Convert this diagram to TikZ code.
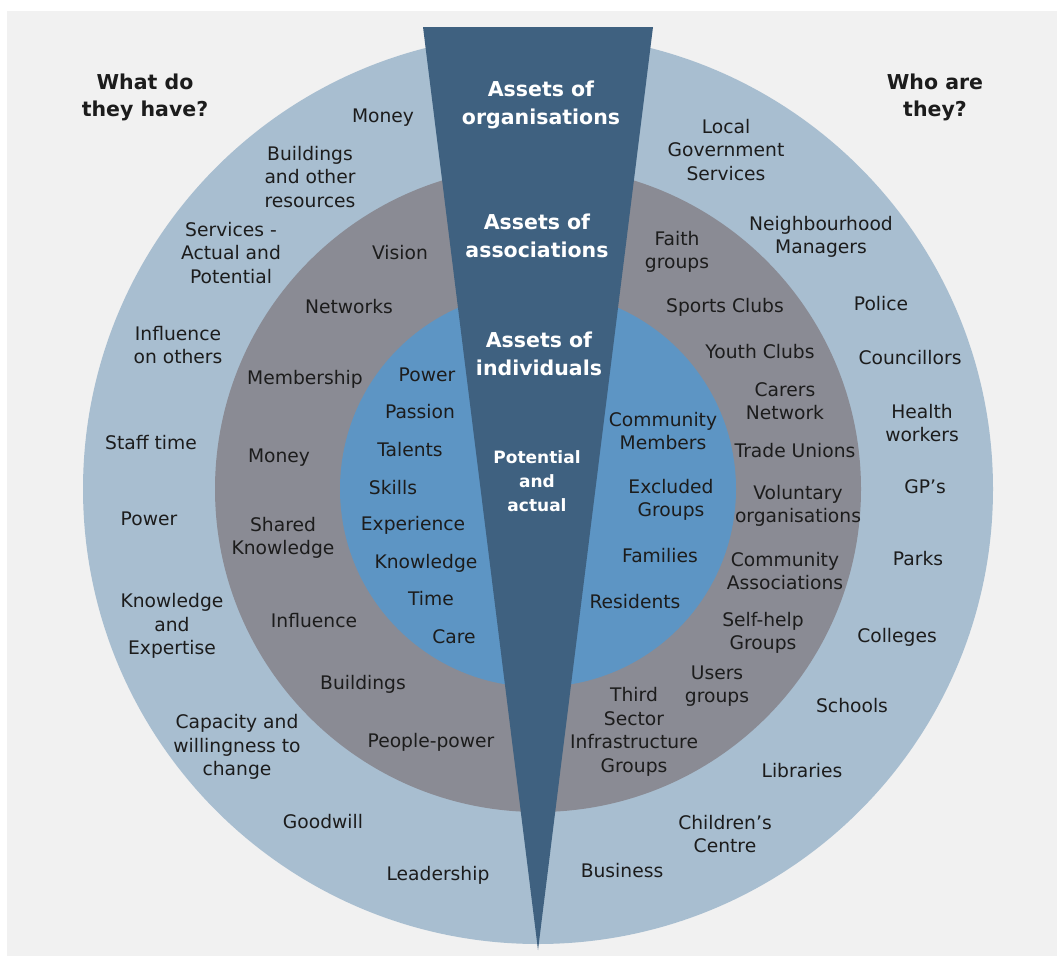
\documentclass[tikz,border=0pt]{standalone}
\usepackage{fontspec}
\setmainfont{DejaVu Sans}

\definecolor{paper}{HTML}{F1F1F1}
\definecolor{orgring}{HTML}{A8BED0}
\definecolor{assocring}{HTML}{8A8B94}
\definecolor{indivdisc}{HTML}{5D95C4}
\definecolor{wedgeblue}{HTML}{3F6180}
\definecolor{ink}{HTML}{1C1C1C}

\begin{document}
\begin{tikzpicture}[
  x=1pt, y=-1pt,
  lbl/.style={text=ink, align=center, inner sep=0pt,
              font=\fontsize{18.7}{23.5}\selectfont},
  head/.style={lbl, font=\bfseries\fontsize{20.5}{27}\selectfont},
  wlbl/.style={lbl, text=white, font=\bfseries\fontsize{20.5}{28.5}\selectfont},
  wsmall/.style={wlbl, font=\bfseries\fontsize{17}{24}\selectfont},
]
\useasboundingbox (0,0) rectangle (1057,956);
\fill[white] (0,0) rectangle (1057,956);
\fill[paper] (7,11) rectangle (1057,956);

% rings, outside in
\coordinate (ctr) at (538,489);
\fill[orgring] (ctr) circle [radius=455pt];
\fill[assocring] (ctr) circle [radius=323pt];
\fill[indivdisc] (ctr) circle [radius=198pt];
\fill[wedgeblue] (423,27) -- (653,27) -- (538,950) -- cycle;

% headings
\node[head] (have) at (145,97) {What do\\they have?};
\node[head] (who) at (935,97) {Who are\\they?};
\node[wlbl] (w-org) at (541,105) {Assets of\\organisations};
\node[wlbl] (w-assoc) at (537,236) {Assets of\\associations};
\node[wlbl] (w-indiv) at (539,354) {Assets of\\individuals};
\node[wsmall] (w-pot) at (537,481) {Potential\\and\\actual};

% organisations: what they have
\node[lbl] (o-money) at (383,118) {Money};
\node[lbl] (o-build) at (310,177) {Buildings\\and other\\resources};
\node[lbl] (o-serv) at (231,253) {Services -\\Actual and\\Potential};
\node[lbl] (o-infl) at (178,345) {Influence\\on others};
\node[lbl] (o-staff) at (151,443) {Staff time};
\node[lbl] (o-power) at (149,519) {Power};
\node[lbl] (o-know) at (172,626) {Knowledge\\and\\Expertise};
\node[lbl] (o-cap) at (237,747) {Capacity and\\willingness to\\change};
\node[lbl] (o-good) at (323,822) {Goodwill};
\node[lbl] (o-lead) at (438,875) {Leadership};

% associations: what they have
\node[lbl] (a-vision) at (400,253) {Vision};
\node[lbl] (a-net) at (349,307) {Networks};
\node[lbl] (a-member) at (305,379) {Membership};
\node[lbl] (a-money) at (279,458) {Money};
\node[lbl] (a-shared) at (283,538) {Shared\\Knowledge};
\node[lbl] (a-infl) at (314,621) {Influence};
\node[lbl] (a-build) at (363,684) {Buildings};
\node[lbl] (a-people) at (431,742) {People-power};

% individuals: what they have
\node[lbl] (i-power) at (427,375) {Power};
\node[lbl] (i-passion) at (420,412) {Passion};
\node[lbl] (i-talent) at (410,450) {Talents};
\node[lbl] (i-skill) at (393,488) {Skills};
\node[lbl] (i-exp) at (413,525) {Experience};
\node[lbl] (i-know) at (426,563) {Knowledge};
\node[lbl] (i-time) at (431,599) {Time};
\node[lbl] (i-care) at (454,637) {Care};

% individuals: who they are
\node[lbl] (i-comm) at (663,431) {Community\\Members};
\node[lbl] (i-excl) at (671,500) {Excluded\\Groups};
\node[lbl] (i-fam) at (660,556) {Families};
\node[lbl] (i-res) at (635,602) {Residents};

% associations: who they are
\node[lbl] (a-faith) at (677,252) {Faith\\groups};
\node[lbl] (a-sport) at (725,307) {Sports Clubs};
\node[lbl] (a-youth) at (760,352) {Youth Clubs};
\node[lbl] (a-carers) at (785,401) {Carers\\Network};
\node[lbl] (a-trade) at (795,451) {Trade Unions};
\node[lbl] (a-vol) at (798,506) {Voluntary\\organisations};
\node[lbl] (a-comm) at (785,571) {Community\\Associations};
\node[lbl] (a-self) at (763,633) {Self-help\\Groups};
\node[lbl] (a-users) at (717,686) {Users\\groups};
\node[lbl] (a-third) at (634,732) {Third\\Sector\\Infrastructure\\Groups};

% organisations: who they are
\node[lbl] (o-local) at (726,150) {Local\\Government\\Services};
\node[lbl] (o-neigh) at (821,237) {Neighbourhood\\Managers};
\node[lbl] (o-police) at (881,304) {Police};
\node[lbl] (o-counc) at (910,358) {Councillors};
\node[lbl] (o-health) at (922,423) {Health\\workers};
\node[lbl] (o-gp) at (925,487) {GP’s};
\node[lbl] (o-parks) at (918,559) {Parks};
\node[lbl] (o-coll) at (897,637) {Colleges};
\node[lbl] (o-school) at (852,706) {Schools};
\node[lbl] (o-lib) at (802,771) {Libraries};
\node[lbl] (o-child) at (725,834) {Children’s\\Centre};
\node[lbl] (o-bus) at (622,871) {Business};
\end{tikzpicture}
\end{document}
